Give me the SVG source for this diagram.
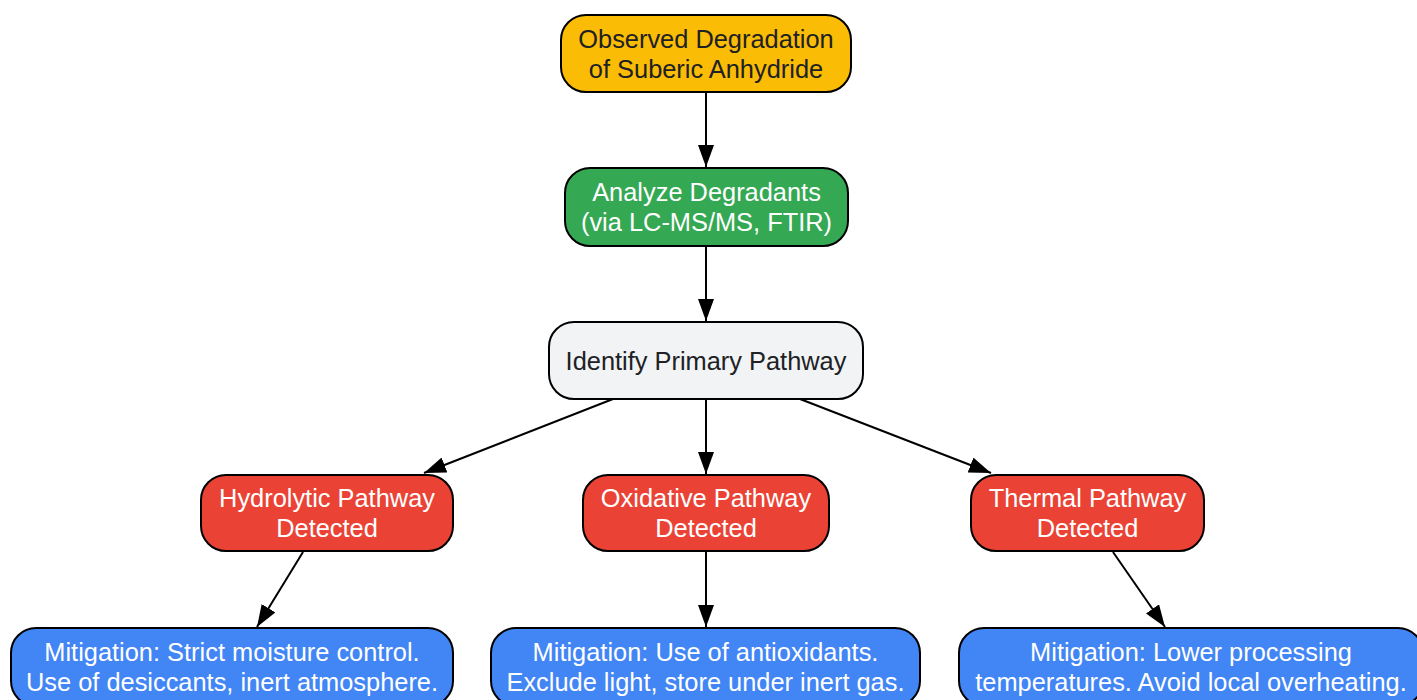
<svg xmlns="http://www.w3.org/2000/svg" width="1417" height="700" viewBox="0 0 1417 700">
<style>
.n{stroke:#000;stroke-width:2}
.t{font-family:"Liberation Sans",Arial,sans-serif;font-size:25.4px;text-anchor:middle}
.d{fill:#202124}
.w{fill:#fff}
.e{stroke:#000;stroke-width:2;fill:none;marker-end:url(#ah)}
</style>
<defs>
<marker id="ah" viewBox="0 0 22 16" refX="22" refY="8" markerWidth="22" markerHeight="16" markerUnits="userSpaceOnUse" orient="auto">
<path d="M0,0L22,8L0,16z" fill="#000"/>
</marker>
</defs>
<rect width="1417" height="700" fill="#fff"/>
<g id="connectors">
<path class="e" d="M706,93L706,167"/>
<path class="e" d="M706,247L706,321"/>
<path class="e" d="M613,399L424,473"/>
<path class="e" d="M706,400L706,474"/>
<path class="e" d="M800,399L991,473"/>
<path class="e" d="M303,552L257,627"/>
<path class="e" d="M706,552L706,627"/>
<path class="e" d="M1113,552L1165,627"/>
</g>
<g id="n1">
<rect class="n" x="561" y="15" width="290" height="77" rx="25" fill="#FBBC05"/>
<text class="t d" x="706" y="48">Observed Degradation</text>
<text class="t d" x="706" y="78">of Suberic Anhydride</text>
</g>
<g id="n2">
<rect class="n" x="565" y="168" width="283" height="78" rx="25" fill="#34A853"/>
<text class="t w" x="706.5" y="201">Analyze Degradants</text>
<text class="t w" x="706.5" y="231">(via LC-MS/MS, FTIR)</text>
</g>
<g id="n3">
<rect class="n" x="549" y="322" width="314" height="77" rx="25" fill="#F1F3F4"/>
<text class="t d" x="706" y="369.5">Identify Primary Pathway</text>
</g>
<g id="n4">
<rect class="n" x="201" y="475" width="252" height="76" rx="25" fill="#EA4335"/>
<text class="t w" x="327" y="507">Hydrolytic Pathway</text>
<text class="t w" x="327" y="537">Detected</text>
</g>
<g id="n5">
<rect class="n" x="583" y="475" width="246" height="76" rx="25" fill="#EA4335"/>
<text class="t w" x="706" y="507">Oxidative Pathway</text>
<text class="t w" x="706" y="537">Detected</text>
</g>
<g id="n6">
<rect class="n" x="971" y="475" width="233" height="76" rx="25" fill="#EA4335"/>
<text class="t w" x="1087.5" y="507">Thermal Pathway</text>
<text class="t w" x="1087.5" y="537">Detected</text>
</g>
<g id="n7">
<rect class="n" x="11" y="628" width="442" height="78" rx="25" fill="#4285F4"/>
<text class="t w" x="232" y="661">Mitigation: Strict moisture control.</text>
<text class="t w" x="232" y="691">Use of desiccants, inert atmosphere.</text>
</g>
<g id="n8">
<rect class="n" x="491" y="628" width="429" height="78" rx="25" fill="#4285F4"/>
<text class="t w" x="705.5" y="661">Mitigation: Use of antioxidants.</text>
<text class="t w" x="705.5" y="691">Exclude light, store under inert gas.</text>
</g>
<g id="n9">
<rect class="n" x="959" y="628" width="464" height="78" rx="25" fill="#4285F4"/>
<text class="t w" x="1191" y="661">Mitigation: Lower processing</text>
<text class="t w" x="1191" y="691">temperatures. Avoid local overheating.</text>
</g>
</svg>
